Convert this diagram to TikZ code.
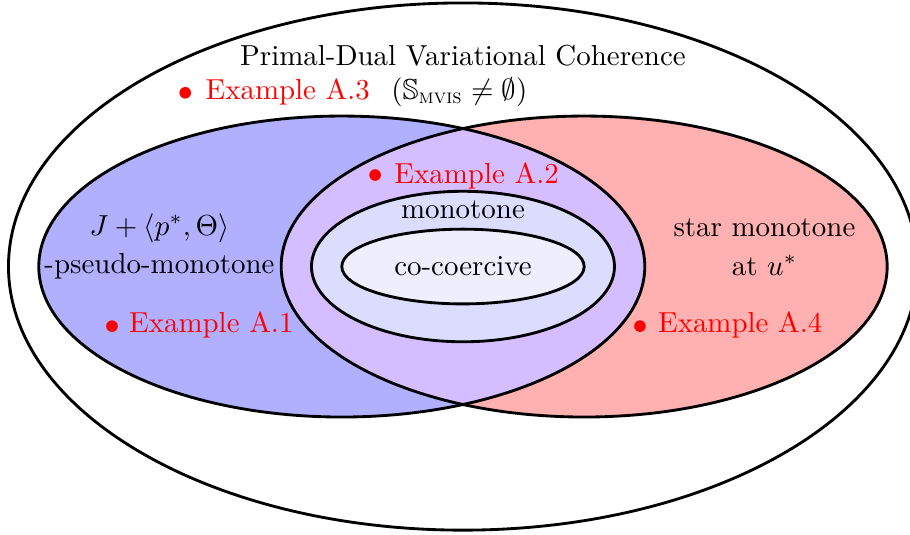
\documentclass[tikz,border=0pt]{standalone}
\usepackage{amsmath,amssymb}
\definecolor{setblue}{RGB}{176,176,255}
\definecolor{setred}{RGB}{255,176,176}
\definecolor{setboth}{RGB}{212,190,255}
\definecolor{setmono}{RGB}{220,220,255}
\definecolor{setcoco}{RGB}{238,238,255}
\begin{document}
\begin{tikzpicture}[line width=0.8pt,
  lbl/.style={inner sep=0pt, anchor=base, font=\fontsize{10}{12}\selectfont, scale=0.815},
  exlbl/.style={lbl, anchor=base west, text=red},
  reddot/.style={circle, fill=red, draw=none, inner sep=0pt, minimum size=0.115cm}]
\useasboundingbox (-4.584,-2.658) rectangle (4.426,2.639);
% outer set
\draw (0,0) ellipse [x radius=4.5, y radius=2.61];
% two overlapping sets
\fill[setblue] (-1.2,0) ellipse [x radius=3, y radius=1.49];
\fill[setred] (1.2,0) ellipse [x radius=3, y radius=1.49];
\begin{scope}
  \clip (-1.2,0) ellipse [x radius=3, y radius=1.49];
  \fill[setboth] (1.2,0) ellipse [x radius=3, y radius=1.49];
\end{scope}
\draw (-1.2,0) ellipse [x radius=3, y radius=1.49];
\draw (1.2,0) ellipse [x radius=3, y radius=1.49];
% nested sets
\filldraw[fill=setmono] (0,0) ellipse [x radius=1.5, y radius=0.745];
\filldraw[fill=setcoco] (0,0) ellipse [x radius=1.2, y radius=0.37];
% labels
\node[lbl] (title) at (0,1.995) {Primal-Dual Variational Coherence};
\node[reddot] (d3) at (-2.75,1.72) {};
\node[exlbl] (ex3) at (-2.56,1.655) {Example A.3};
\node[lbl, anchor=base west] (mvis) at (-0.72,1.655) {$(\mathbb{S}_{\text{\textsc{mvis}}}\neq\emptyset)$};
\node[reddot] (d2) at (-0.87,0.906) {};
\node[exlbl] (ex2) at (-0.69,0.827) {Example A.2};
\node[lbl] (mono) at (0,0.48) {monotone};
\node[lbl] (coco) at (0,-0.084) {co-coercive};
\node[lbl] (pm1) at (-3.005,0.312) {$J+\langle p^*,\Theta\rangle$};
\node[lbl] (pm2) at (-3.005,-0.067) {-pseudo-monotone};
\node[reddot] (d1) at (-3.475,-0.59) {};
\node[exlbl] (ex1) at (-3.317,-0.658) {Example A.1};
\node[lbl] (sm1) at (2.985,0.302) {star monotone};
\node[lbl] (sm2) at (2.985,-0.084) {at $u^*$};
\node[reddot] (d4) at (1.752,-0.59) {};
\node[exlbl] (ex4) at (1.92,-0.658) {Example A.4};
\end{tikzpicture}
\end{document}
